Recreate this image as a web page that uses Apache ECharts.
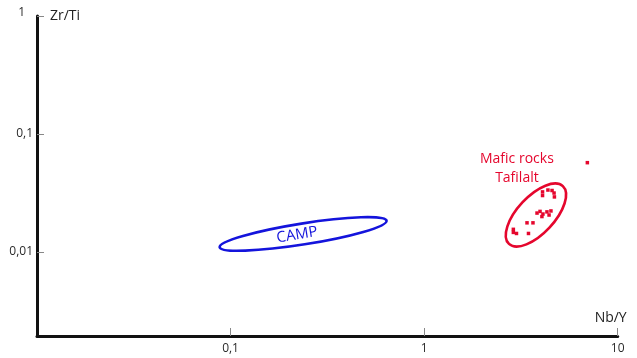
<!DOCTYPE html>
<html><head><meta charset="utf-8">
<script src="https://cdn.jsdelivr.net/npm/echarts@6/dist/echarts.min.js"></script>
<style>html,body{margin:0;padding:0;background:#fff}#c{width:637px;height:358px}</style>
</head><body><div id="c"></div>
<script>
// Tick values and labels
const xTicks = [0.1, 1, 10];
const xTickLabels = ['0,1', '1', '10'];
const yTicks = [0.01, 0.1, 1];
const yTickLabels = ['0,01', '0,1', '1'];

// Mafic rocks of Tafilalt (Nb/Y, Zr/Ti)
const maficNbY  = [6.97, 4.09, 4.09, 4.36, 4.58, 4.69, 4.71, 3.83, 3.97, 4.11, 4.31, 4.52, 4.42, 4.06, 3.40, 3.65, 2.89, 2.89, 3.00, 3.46];
const maficZrTi = [0.0570, 0.0322, 0.0300, 0.0334, 0.0331, 0.0315, 0.0292, 0.0213, 0.0220, 0.0209, 0.0218, 0.0222, 0.0205, 0.0199, 0.0176, 0.0176, 0.0155, 0.0146, 0.0143, 0.0143];

// Field (ellipse) centres
const fieldNames = ['CAMP', 'Mafic rocks\nTafilalt'];
const fieldNbY  = [0.237, 3.78];
const fieldZrTi = [0.01416, 0.0205];

const BLUE = '#1414dc';
const RED = '#e5062d';
const FONT = 'Open Sans';

const chart = echarts.init(document.getElementById('c'));
const fieldStyle = [
  {rx: 84.5, ry: 10.5, rot: 9, color: BLUE},
  {rx: 39.5, ry: 18.5, rot: 47, color: RED}
];
chart.setOption({
  animation: false,
  backgroundColor: '#fff',
  grid: {left: 37, right: 19.3, top: 16, bottom: 22},
  xAxis: {
    type: 'log', min: 0.01, max: 10, logBase: 10,
    name: 'Nb/Y', nameLocation: 'end', nameGap: 9,
    nameTextStyle: {fontFamily: FONT, fontSize: 14, color: '#222', align: 'right', verticalAlign: 'bottom', padding: [0, 0, 11, 0]},
    axisLine: {lineStyle: {color: '#111', width: 3}},
    axisTick: {inside: true, length: 8, lineStyle: {color: '#888', width: 1}, customValues: xTicks},
    axisLabel: {customValues: xTicks, margin: 7, fontFamily: FONT, fontSize: 12, color: '#2a2a2a',
      formatter: v => xTickLabels[xTicks.findIndex(t => Math.abs(t - v) < t * 1e-6)]},
    splitLine: {show: false}
  },
  yAxis: {
    type: 'log', min: 0.00193, max: 1, logBase: 10,
    name: 'Zr/Ti', nameLocation: 'end', nameGap: 0,
    nameTextStyle: {fontFamily: FONT, fontSize: 14, color: '#222', align: 'left', verticalAlign: 'middle', padding: [0, 0, 0, 13]},
    axisLine: {lineStyle: {color: '#111', width: 3}},
    axisTick: {inside: true, length: 7, lineStyle: {color: '#888', width: 1}, customValues: yTicks},
    axisLabel: {customValues: yTicks, margin: 4, fontFamily: FONT, fontSize: 12, color: '#2a2a2a',
      formatter: v => {
        const i = yTicks.findIndex(t => Math.abs(t - v) < t * 1e-6);
        return i === 2 ? '{one|' + yTickLabels[i] + '}' : yTickLabels[i];
      },
      rich: {one: {fontFamily: FONT, fontSize: 12, color: '#2a2a2a', padding: [0, 8, 6, 0]}}
    },
    splitLine: {show: false}
  },
  series: [
    {
      type: 'custom',
      clip: false,
      z: 2,
      data: fieldNbY.map((x, i) => [x, fieldZrTi[i]]),
      renderItem: function (params, api) {
        const p = api.coord([api.value(0), api.value(1)]);
        const i = params.dataIndex;
        const s = fieldStyle[i];
        const children = [{
          type: 'ellipse',
          x: p[0], y: p[1], rotation: s.rot * Math.PI / 180,
          shape: {cx: 0, cy: 0, rx: s.rx, ry: s.ry},
          style: {fill: null, stroke: s.color, lineWidth: 2.6}
        }];
        if (i === 0) {
          children.push({
            type: 'text', x: p[0] - 6, y: p[1] + 1, rotation: s.rot * Math.PI / 180,
            style: {text: fieldNames[i], fill: s.color, fontFamily: FONT, fontSize: 15, align: 'center', verticalAlign: 'middle'}
          });
        } else {
          children.push({
            type: 'text', x: p[0] - 19, y: p[1] - 46.5,
            style: {text: fieldNames[i], fill: s.color, fontFamily: FONT, fontSize: 14, lineHeight: 19, align: 'center', verticalAlign: 'middle'}
          });
        }
        return {type: 'group', children: children};
      }
    },
    {
      type: 'scatter',
      z: 3,
      symbol: 'rect',
      symbolSize: 3.5,
      itemStyle: {color: RED, opacity: 1},
      data: maficNbY.map((x, i) => [x, maficZrTi[i]])
    }
  ]
});
</script>
</body></html>
